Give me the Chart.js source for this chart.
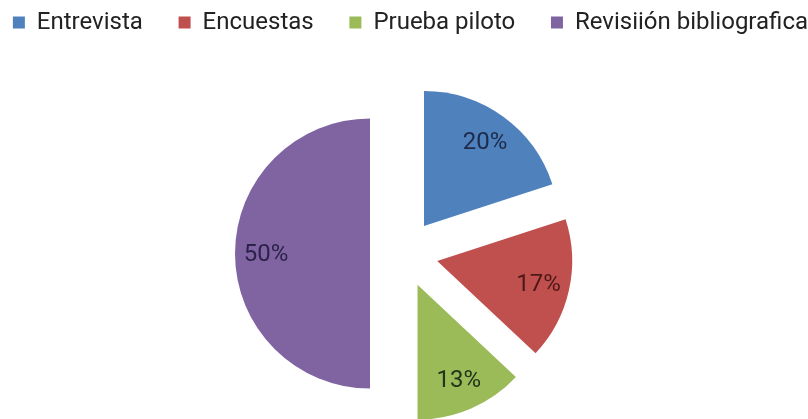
<!DOCTYPE html>
<html>
<head>
<meta charset="utf-8">
<script src="https://cdn.jsdelivr.net/npm/chart.js@4.4.1/dist/chart.umd.min.js"></script>
<style>
  html, body { margin: 0; padding: 0; background: #ffffff; }
  #wrap { width: 808px; height: 419px; position: relative; }
</style>
</head>
<body>
<div id="wrap"><canvas id="chart"></canvas></div>
<script>
// Categories and their shares (percent)
const categories = ['Entrevista', 'Encuestas', 'Prueba piloto', 'Revisiión bibliografica'];
const shares = [20, 17, 13, 50];
const sliceColors = ['#4F81BD', '#C0504D', '#9BBB59', '#8064A2'];
const labelColors = ['#1d2b4a', '#4c1818', '#22341a', '#2c2249'];

const EXPLODE = 34;          // distance each slice is pulled out from the centre
const LABEL_POS = 0.77;      // label distance as a fraction of the radius
const LEGEND_GAP = '      '; // space between legend entries
const LEGEND_HEIGHT = 108;

// Draws each slice pulled outwards along its mid-angle.
const explodePlugin = {
  id: 'explodeSlices',
  afterInit(chart) {
    const legend = chart.legend;
    if (legend) {
      const fit = legend.fit;
      legend.fit = function () {
        fit.call(this);
        this.height = LEGEND_HEIGHT;
      };
    }
  },
  beforeDatasetDraw(chart, args) {
    const ctx = chart.ctx;
    args.meta.data.forEach(arc => {
      const mid = (arc.startAngle + arc.endAngle) / 2;
      ctx.save();
      ctx.translate(Math.cos(mid) * EXPLODE, Math.sin(mid) * EXPLODE);
      arc.draw(ctx);
      ctx.restore();
    });
    return false;
  },
  afterDatasetsDraw(chart) {
    const ctx = chart.ctx;
    const meta = chart.getDatasetMeta(0);
    const total = shares.reduce((a, b) => a + b, 0);
    ctx.save();
    ctx.font = '24px Roboto, "DejaVu Sans", sans-serif';
    ctx.textAlign = 'center';
    ctx.textBaseline = 'middle';
    meta.data.forEach((arc, i) => {
      const mid = (arc.startAngle + arc.endAngle) / 2;
      const d = EXPLODE + arc.outerRadius * LABEL_POS;
      const x = arc.x + Math.cos(mid) * d;
      const y = arc.y + Math.sin(mid) * d + 1;
      ctx.fillStyle = labelColors[i];
      ctx.fillText(Math.round(shares[i] / total * 100) + '%', x, y);
    });
    ctx.restore();
  }
};

new Chart(document.getElementById('chart'), {
  type: 'pie',
  data: {
    labels: categories,
    datasets: [{
      data: shares,
      backgroundColor: sliceColors,
      borderWidth: 0,
      offset: 0,
      hoverOffset: 0
    }]
  },
  options: {
    responsive: true,
    maintainAspectRatio: false,
    animation: false,
    devicePixelRatio: 1,
    layout: { padding: { top: 10.5, bottom: 30.5, left: 0, right: 0 } },
    plugins: {
      tooltip: { enabled: false },
      legend: {
        position: 'top',
        align: 'end',
        labels: {
          boxWidth: 12,
          boxHeight: 12,
          padding: 0,
          color: '#222222',
          font: { family: 'Roboto, "DejaVu Sans", sans-serif', size: 24 },
          generateLabels(chart) {
            const items = Chart.overrides.doughnut.plugins.legend.labels.generateLabels(chart);
            items.forEach((it, i) => {
              if (i < items.length - 1) it.text += LEGEND_GAP;
            });
            return items;
          }
        }
      }
    }
  },
  plugins: [explodePlugin]
});
</script>
</body>
</html>
